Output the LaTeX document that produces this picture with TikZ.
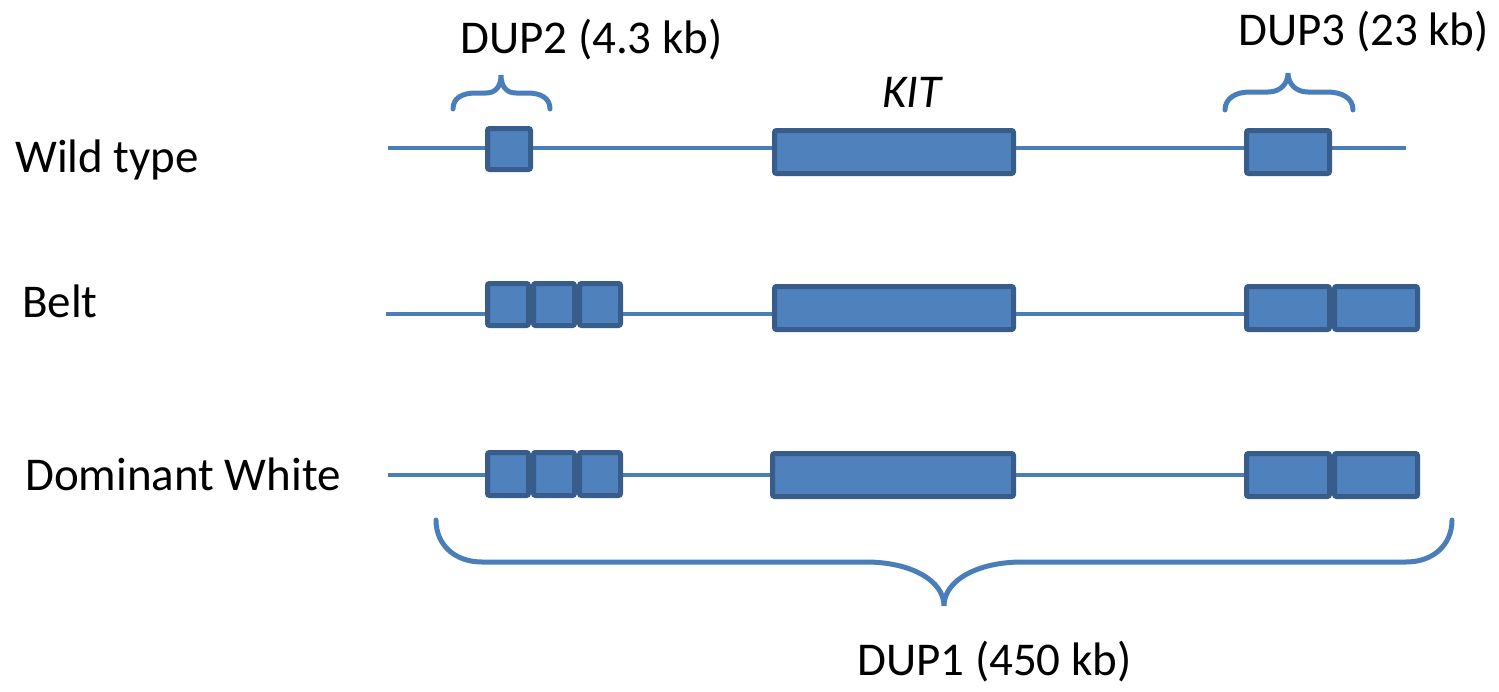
\documentclass[tikz,border=0pt]{standalone}
\usepackage{fontspec}
\setmainfont{Carlito}
\definecolor{boxfill}{HTML}{4F81BD}
\definecolor{boxline}{HTML}{385D8A}
\definecolor{strand}{HTML}{4A7EBB}
\begin{document}
\begin{tikzpicture}[x=1pt,y=-1pt,
  gbox/.style={draw=boxline,fill=boxfill,line width=5pt,rounded corners=2pt,inner sep=0pt},
  strandline/.style={draw=strand,line width=4.5pt},
  bracel/.style={draw=strand,line width=5pt,line cap=round},
  lbl/.style={font=\fontsize{47}{56}\selectfont,inner sep=0pt,anchor=base west}]
\useasboundingbox (0,0) rectangle (1499,691);

% strand lines (drawn first, behind boxes)
\coordinate (wtS) at (388,148);
\coordinate (wtE) at (1406,148);
\coordinate (beS) at (386,314);
\coordinate (beE) at (1250,314);
\coordinate (dwS) at (388,475);
\coordinate (dwE) at (1250,475);
\draw[strandline] (wtS) -- (wtE);
\draw[strandline] (beS) -- (beE);
\draw[strandline] (dwS) -- (dwE);

% Wild type
\node[gbox,minimum width=43pt,minimum height=41pt] (wtd2) at (509,149) {};
\node[gbox,minimum width=239pt,minimum height=43pt] (wtkit) at (894,152) {};
\node[gbox,minimum width=83pt,minimum height=43pt] (wtd3) at (1288,152) {};

% Belt
\node[gbox,minimum width=41pt,minimum height=42pt] (bed2a) at (508,304.5) {};
\node[gbox,minimum width=41pt,minimum height=42pt] (bed2b) at (554,304.5) {};
\node[gbox,minimum width=41pt,minimum height=42pt] (bed2c) at (600,304.5) {};
\node[gbox,minimum width=239pt,minimum height=43pt] (bekit) at (894,308) {};
\node[gbox,minimum width=83pt,minimum height=43pt] (bed3a) at (1288,308) {};
\node[gbox,minimum width=83pt,minimum height=43pt] (bed3b) at (1376,308) {};

% Dominant White
\node[gbox,minimum width=41pt,minimum height=43pt] (dwd2a) at (508,474) {};
\node[gbox,minimum width=41pt,minimum height=43pt] (dwd2b) at (554,474) {};
\node[gbox,minimum width=41pt,minimum height=43pt] (dwd2c) at (600,474) {};
\node[gbox,minimum width=241pt,minimum height=43pt] (dwkit) at (893,475) {};
\node[gbox,minimum width=83pt,minimum height=43pt] (dwd3a) at (1288,475) {};
\node[gbox,minimum width=83pt,minimum height=43pt] (dwd3b) at (1376,475) {};

% braces
\draw[bracel] (453,109) .. controls (453,98) and (462,93) .. (476,93) -- (486,93)
  .. controls (496,93) and (501,86) .. (501,75)
  .. controls (501,86) and (506,93) .. (516,93) -- (527,93)
  .. controls (541,93) and (550,98) .. (550,109);
\draw[bracel] (1225,110) .. controls (1225,98) and (1236,92) .. (1250,92) -- (1268,92)
  .. controls (1280,92) and (1288,84) .. (1288,73)
  .. controls (1288,84) and (1296,92) .. (1308,92) -- (1327,92)
  .. controls (1342,92) and (1353,98) .. (1353,110);
\draw[bracel] (436,520) .. controls (436,545) and (455,562) .. (482,562) -- (866,562)
  .. controls (910,562) and (944,580) .. (944,606)
  .. controls (944,580) and (978,562) .. (1022,562) -- (1406,562)
  .. controls (1433,562) and (1452,545) .. (1452,520);

% labels
\node[lbl] (lwt) at (15,172) {Wild type};
\node[lbl] (lbe) at (22,317) {Belt};
\node[lbl] (ldw) at (25,490) {Dominant White};
\node[lbl] (ld2) at (460,53) {DUP2 (4.3 kb)};
\node[lbl] (ld3) at (1238,45) {DUP3 (23 kb)};
\node[lbl] (lkit) at (882,107) {\itshape KIT};
\node[lbl] (ld1) at (857,675) {DUP1 (450 kb)};
\end{tikzpicture}
\end{document}
